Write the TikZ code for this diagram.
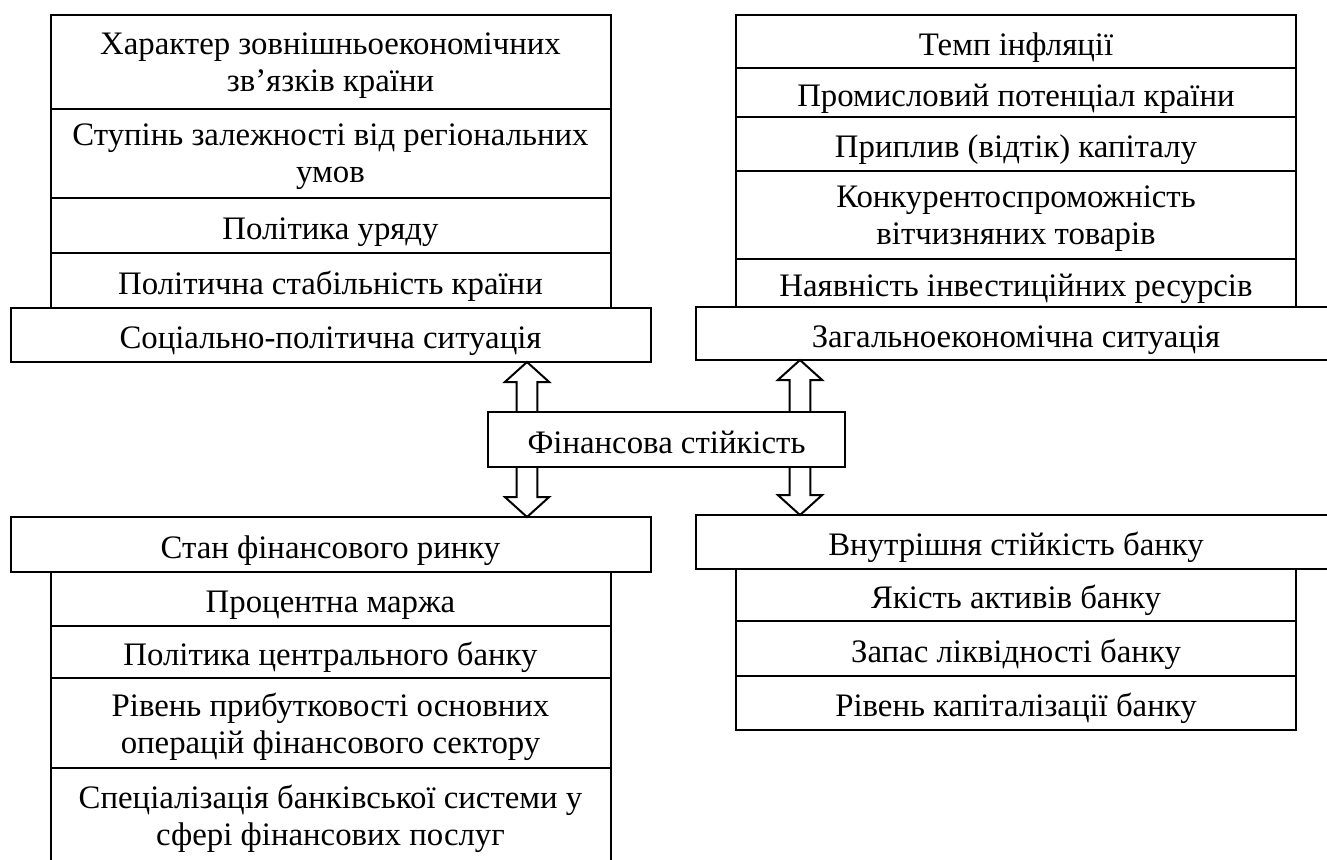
\documentclass[tikz,border=0pt]{standalone}
\usepackage{fontspec}
\setmainfont{Liberation Serif}
\usetikzlibrary{positioning, calc}

\begin{document}
\begin{tikzpicture}[
	x=0.5pt, y=-0.5pt,
	font=\fontsize{16.4pt}{18.4pt}\selectfont,
	line width=1pt,
	box/.style={draw, align=center, outer sep=0pt, inner sep=2pt, text depth=0pt},
	one/.style={text height=13.5pt},
	sit/.style={box, one, minimum width=320pt, minimum height=27pt},
	item/.style={box, minimum width=280pt},
	blk/.style={draw, line width=1pt, line join=miter},
	node distance=0pt
	]
	\useasboundingbox (0,0) rectangle (1327,859);
	\clip (0,0) rectangle (1327,859);
	
	% centre
	\node[box, one, minimum width=178.5pt, minimum height=27.5pt] (fin) at (666.5,439.5) {Фінансова стійкість};
	
	% top left
	\node[sit] (sp) at (330.5,335) {Соціально-політична ситуація};
	\node[item, one, minimum height=27.5pt, above=of sp] (sp4) {Політична стабільність країни};
	\node[item, one, minimum height=27.5pt, above=of sp4] (sp3) {Політика уряду};
	\node[item, minimum height=44.75pt, above=of sp3] (sp2) {Ступінь залежності від регіональних\\умов};
	\node[item, minimum height=46.75pt, above=of sp2] (sp1) {Характер зовнішньоекономічних\\зв’язків країни};
	
	% top right
	\node[sit, minimum height=26.5pt] (ge) at (1016,333.5) {Загальноекономічна ситуація};
	\node[item, one, minimum height=24pt, above=of ge] (ge5) {Наявність інвестиційних ресурсів};
	\node[item, minimum height=44pt, above=of ge5] (ge4) {Конкурентоспроможність\\вітчизняних товарів};
	\node[item, one, minimum height=27pt, above=of ge4] (ge3) {Приплив (відтік) капіталу};
	\node[item, one, minimum height=24.5pt, above=of ge3] (ge2) {Промисловий потенціал країни};
	\node[item, one, minimum height=26.5pt, above=of ge2] (ge1) {Темп інфляції};
	
	% bottom left
	\node[sit, minimum height=27.5pt] (fm) at (330.5,544.5) {Стан фінансового ринку};
	\node[item, one, minimum height=27pt, below=of fm] (fm1) {Процентна маржа};
	\node[item, one, minimum height=26pt, below=of fm1] (fm2) {Політика центрального банку};
	\node[item, minimum height=45pt, below=of fm2] (fm3) {Рівень прибутковості основних\\операцій фінансового сектору};
	\node[item, minimum height=47pt, below=of fm3] (fm4) {Спеціалізація банківської системи у\\сфері фінансових послуг};
	
	% bottom right
	\node[sit] (ib) at (1016,542) {Внутрішня стійкість банку};
	\node[item, one, minimum height=26pt, below=of ib] (ib1) {Якість активів банку};
	\node[item, one, minimum height=27.5pt, below=of ib1] (ib2) {Запас ліквідності банку};
	\node[item, one, minimum height=27pt, below=of ib2] (ib3) {Рівень капіталізації банку};
	
	% block arrows
	\coordinate (colL) at (527,0);
	\coordinate (colR) at (800,0);
	\foreach \c/\s/\t in {colL/fin.north/sp.south, colR/fin.north/ge.south, colL/fin.south/fm.north, colR/fin.south/ib.north}
	\draw[blk] ($(\c |- \s)+(-10.35,0)$) -- ($(\c |- \t)!10pt!(\c |- \s)+(-10.35,0)$)
		-- ($(\c |- \t)!10pt!(\c |- \s)+(-22.15,0)$) -- (\c |- \t)
		-- ($(\c |- \t)!10pt!(\c |- \s)+(22.15,0)$) -- ($(\c |- \t)!10pt!(\c |- \s)+(10.35,0)$)
		-- ($(\c |- \s)+(10.35,0)$);
	
\end{tikzpicture}
\end{document}
